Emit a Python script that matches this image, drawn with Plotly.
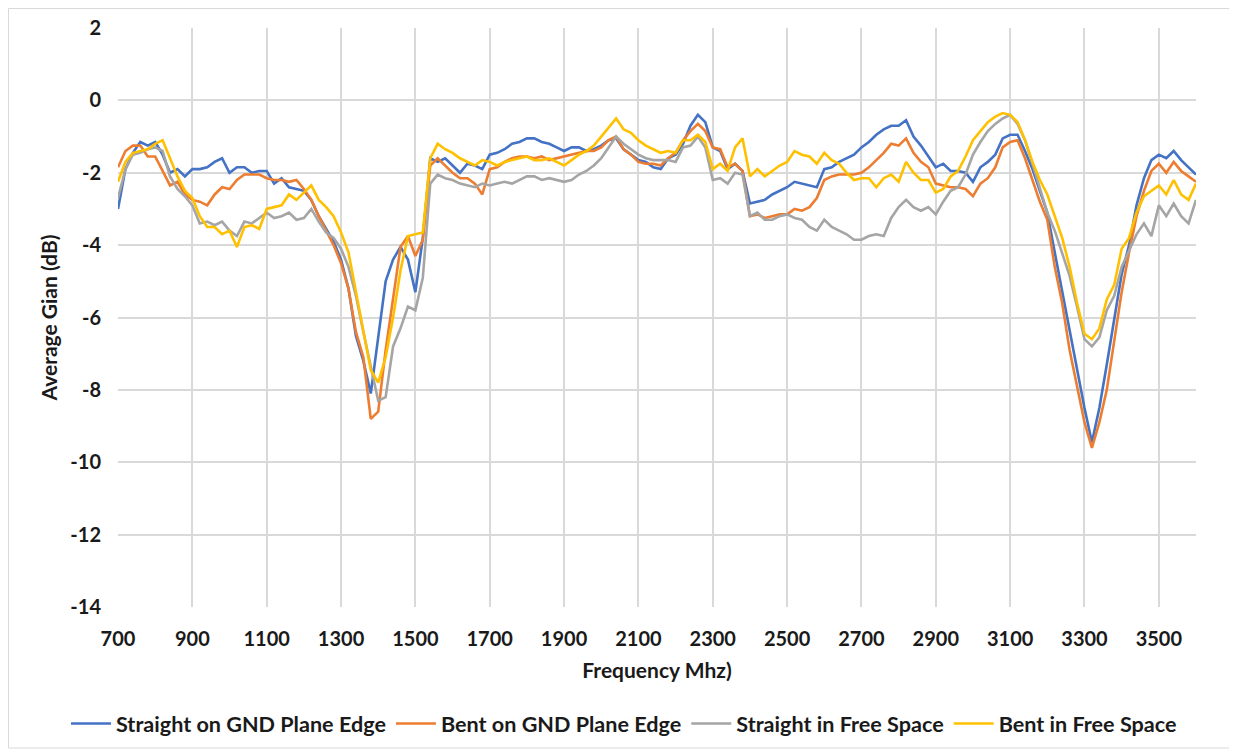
import plotly.graph_objects as go

freq = list(range(700, 3601, 20))

straight_gnd = [
    -3.0, -1.9, -1.45, -1.15, -1.25, -1.15, -1.5, -2.0, -1.9, -2.1,
    -1.9, -1.9, -1.85, -1.7, -1.6, -2.0, -1.85, -1.85, -2.0, -1.95,
    -1.95, -2.3, -2.15, -2.4, -2.45, -2.5, -2.75, -3.2, -3.55, -3.9,
    -4.4, -5.2, -6.5, -7.2, -8.1, -6.6, -5.0, -4.4, -4.05, -4.4,
    -5.3, -3.8, -1.6, -1.7, -1.6, -1.8, -2.0, -1.75, -1.8, -1.9, -1.5,
    -1.45, -1.35, -1.2, -1.15, -1.05, -1.05, -1.15, -1.2, -1.3, -1.4,
    -1.3, -1.3, -1.4, -1.35, -1.25, -1.1, -1.05, -1.35, -1.5, -1.65,
    -1.7, -1.85, -1.9, -1.6, -1.5, -1.2, -0.7, -0.4, -0.6, -1.3,
    -1.4, -1.9, -1.75, -1.95, -2.85, -2.8, -2.75, -2.6, -2.5, -2.4,
    -2.25, -2.3, -2.35, -2.4, -1.9, -1.85, -1.7, -1.6, -1.5, -1.3,
    -1.15, -0.95, -0.8, -0.7, -0.7, -0.55, -1.0, -1.25, -1.55, -1.85,
    -1.75, -1.95, -1.95, -2.0, -2.25, -1.85, -1.7, -1.5, -1.05, -0.95,
    -0.95, -1.4, -1.9, -2.5, -3.1, -4.2, -5.3, -6.4, -7.4, -8.5,
    -9.45, -8.5, -7.3, -6.0, -4.8, -4.0, -2.9, -2.15, -1.65, -1.5,
    -1.6, -1.4, -1.65, -1.85, -2.05,
]

bent_gnd = [
    -1.85, -1.4, -1.25, -1.25, -1.55, -1.55, -1.95, -2.35, -2.25, -2.6,
    -2.75, -2.8, -2.9, -2.6, -2.4, -2.45, -2.2, -2.05, -2.05, -2.05,
    -2.15, -2.2, -2.2, -2.25, -2.2, -2.45, -2.75, -3.2, -3.6, -4.0,
    -4.5, -5.2, -6.4, -7.1, -8.8, -8.6, -6.9, -5.5, -4.05, -3.75,
    -4.3, -3.85, -1.8, -1.6, -1.8, -2.0, -2.15, -2.15, -2.3, -2.6, -1.9,
    -1.85, -1.7, -1.6, -1.55, -1.55, -1.6, -1.55, -1.65, -1.6, -1.55,
    -1.5, -1.45, -1.4, -1.4, -1.3, -1.1, -1.0, -1.35, -1.5, -1.7,
    -1.75, -1.75, -1.8, -1.6, -1.45, -1.1, -0.85, -0.65, -0.85, -1.3,
    -1.35, -1.85, -1.75, -1.95, -3.2, -3.15, -3.25, -3.2, -3.15, -3.15,
    -3.0, -3.05, -2.95, -2.7, -2.2, -2.1, -2.05, -2.05, -2.05, -2.0,
    -1.85, -1.65, -1.45, -1.2, -1.25, -1.05, -1.45, -1.7, -1.85, -2.3,
    -2.35, -2.4, -2.4, -2.45, -2.65, -2.3, -2.15, -1.85, -1.3, -1.15,
    -1.1, -1.6, -2.2, -2.8, -3.3, -4.6, -5.6, -6.9, -7.9, -8.9,
    -9.6, -8.9, -8.0, -6.7, -5.3, -4.2, -3.2, -2.5, -1.95, -1.75,
    -2.0, -1.7, -1.95, -2.1, -2.25,
]

straight_free = [
    -2.7, -1.9, -1.5, -1.45, -1.35, -1.3, -1.4, -2.1, -2.45, -2.65,
    -2.9, -3.4, -3.35, -3.45, -3.35, -3.6, -3.75, -3.35, -3.4, -3.25,
    -3.1, -3.25, -3.2, -3.1, -3.3, -3.25, -3.0, -3.35, -3.65, -3.8,
    -4.1, -4.6, -5.4, -6.4, -7.4, -8.3, -8.2, -6.8, -6.3, -5.7,
    -5.8, -4.9, -2.3, -2.05, -2.15, -2.2, -2.3, -2.35, -2.4, -2.3, -2.35,
    -2.3, -2.25, -2.3, -2.2, -2.1, -2.1, -2.2, -2.15, -2.2, -2.25,
    -2.2, -2.05, -1.95, -1.8, -1.6, -1.3, -1.0, -1.2, -1.35, -1.5,
    -1.6, -1.65, -1.65, -1.65, -1.7, -1.3, -1.25, -1.0, -1.3, -2.2,
    -2.15, -2.3, -2.0, -2.05, -3.2, -3.1, -3.3, -3.3, -3.2, -3.15,
    -3.25, -3.3, -3.5, -3.6, -3.3, -3.5, -3.6, -3.7, -3.85, -3.85,
    -3.75, -3.7, -3.75, -3.25, -2.95, -2.75, -2.95, -3.05, -2.95, -3.15,
    -2.8, -2.5, -2.4, -2.05, -1.5, -1.15, -0.85, -0.65, -0.5, -0.4,
    -0.65, -1.1, -1.75, -2.45, -3.1, -3.6, -4.2, -4.85, -5.7, -6.6,
    -6.8, -6.55, -5.8, -5.4, -4.6, -4.15, -3.7, -3.4, -3.75, -2.9,
    -3.2, -2.85, -3.2, -3.4, -2.75,
]

bent_free = [
    -2.25, -1.7, -1.45, -1.4, -1.35, -1.2, -1.1, -1.6, -2.1, -2.5,
    -2.7, -3.2, -3.5, -3.5, -3.7, -3.6, -4.05, -3.5, -3.45, -3.55,
    -3.0, -2.95, -2.9, -2.6, -2.75, -2.55, -2.35, -2.75, -2.95, -3.2,
    -3.65, -4.2, -5.3, -6.45, -7.45, -7.8, -7.1, -6.0, -4.7, -3.75,
    -3.7, -3.65, -1.6, -1.2, -1.35, -1.45, -1.6, -1.7, -1.8, -1.65, -1.7,
    -1.8, -1.7, -1.65, -1.6, -1.55, -1.65, -1.65, -1.6, -1.7, -1.8,
    -1.65, -1.5, -1.4, -1.25, -1.0, -0.75, -0.5, -0.8, -0.9, -1.1,
    -1.25, -1.35, -1.45, -1.4, -1.45, -1.1, -1.1, -0.95, -1.15, -1.9,
    -1.75, -1.95, -1.3, -1.05, -2.1, -1.9, -2.1, -1.95, -1.8, -1.7,
    -1.4, -1.5, -1.55, -1.75, -1.45, -1.65, -1.75, -2.0, -2.2, -2.15,
    -2.15, -2.4, -2.15, -2.05, -2.25, -1.7, -2.0, -2.2, -2.2, -2.55,
    -2.45, -2.1, -1.95, -1.55, -1.1, -0.85, -0.6, -0.45, -0.35, -0.4,
    -0.6, -1.1, -1.7, -2.2, -2.6, -3.2, -3.8, -4.6, -5.6, -6.45,
    -6.6, -6.3, -5.5, -5.1, -4.1, -3.8, -3.1, -2.65, -2.5, -2.35,
    -2.6, -2.2, -2.6, -2.75, -2.3,
]

series = [
    ("Straight on GND Plane Edge", straight_gnd, "#4472C4"),
    ("Bent on GND Plane Edge", bent_gnd, "#ED7D31"),
    ("Straight in Free Space", straight_free, "#A5A5A5"),
    ("Bent in Free Space", bent_free, "#FFC000"),
]

x_ticks = list(range(700, 3501, 200))
y_ticks = list(range(-14, 3, 2))
y_labels = [str(v) for v in y_ticks]  # plain hyphen minus, as in the original

FONT = "Lato"
TXT = "#1a1a1a"

fig = go.Figure()
for name, vals, color in series:
    fig.add_trace(go.Scatter(
        x=freq, y=vals, mode="lines", name=name,
        line=dict(color=color, width=2.6),
    ))

# page has an 8px body margin: figure occupies page px 8..1237 x 8..752
FW, FH = 1229, 744
L, R, T, B = 110, 41, 20, 145
PW, PH = FW - L - R, FH - T - B

def px_x(p):
    return (p - L) / PW

def px_y(p):
    return (FH - B - p) / PH

fig.update_layout(
    width=FW, height=FH,
    margin=dict(l=L, r=R, t=T, b=B, autoexpand=False),
    paper_bgcolor="white", plot_bgcolor="white",
    font=dict(family=FONT, color=TXT, size=20),
    showlegend=True,
    legend=dict(
        orientation="h", xref="paper", yref="paper",
        x=px_x(58), xanchor="left",
        y=px_y(724 - 8), yanchor="middle",
        font=dict(family=FONT, size=21.6, color=TXT, weight="bold"),
        itemwidth=40, tracegroupgap=0,
    ),
    xaxis=dict(
        range=[700, 3600], tickvals=x_ticks, automargin=False,
        showgrid=True, gridcolor="#D9D9D9", gridwidth=1.5,
        zeroline=False, showline=False,
        tickfont=dict(family=FONT, size=20, color=TXT, weight="bold"),
        ticklabelstandoff=18,
        title=dict(text="Frequency Mhz)", standoff=14,
                   font=dict(family=FONT, size=21, color=TXT, weight="bold")),
    ),
    yaxis=dict(
        range=[-14, 2], tickvals=y_ticks, ticktext=y_labels, automargin=False,
        showgrid=True, gridcolor="#D9D9D9", gridwidth=1.5,
        zeroline=False, showline=False,
        tickfont=dict(family=FONT, size=20, color=TXT, weight="bold"),
        ticklabelstandoff=16,
        title=dict(text="Average Gian (dB)", standoff=6,
                   font=dict(family=FONT, size=21, color=TXT, weight="bold")),
    ),
)

# outer chart border
fig.add_shape(type="rect", xref="paper", yref="paper",
              x0=px_x(0.5), x1=px_x(1225), y0=px_y(740), y1=px_y(0.5),
              line=dict(color="#D9D9D9", width=1), fillcolor="rgba(0,0,0,0)",
              layer="below")

fig.write_html("out.html")
